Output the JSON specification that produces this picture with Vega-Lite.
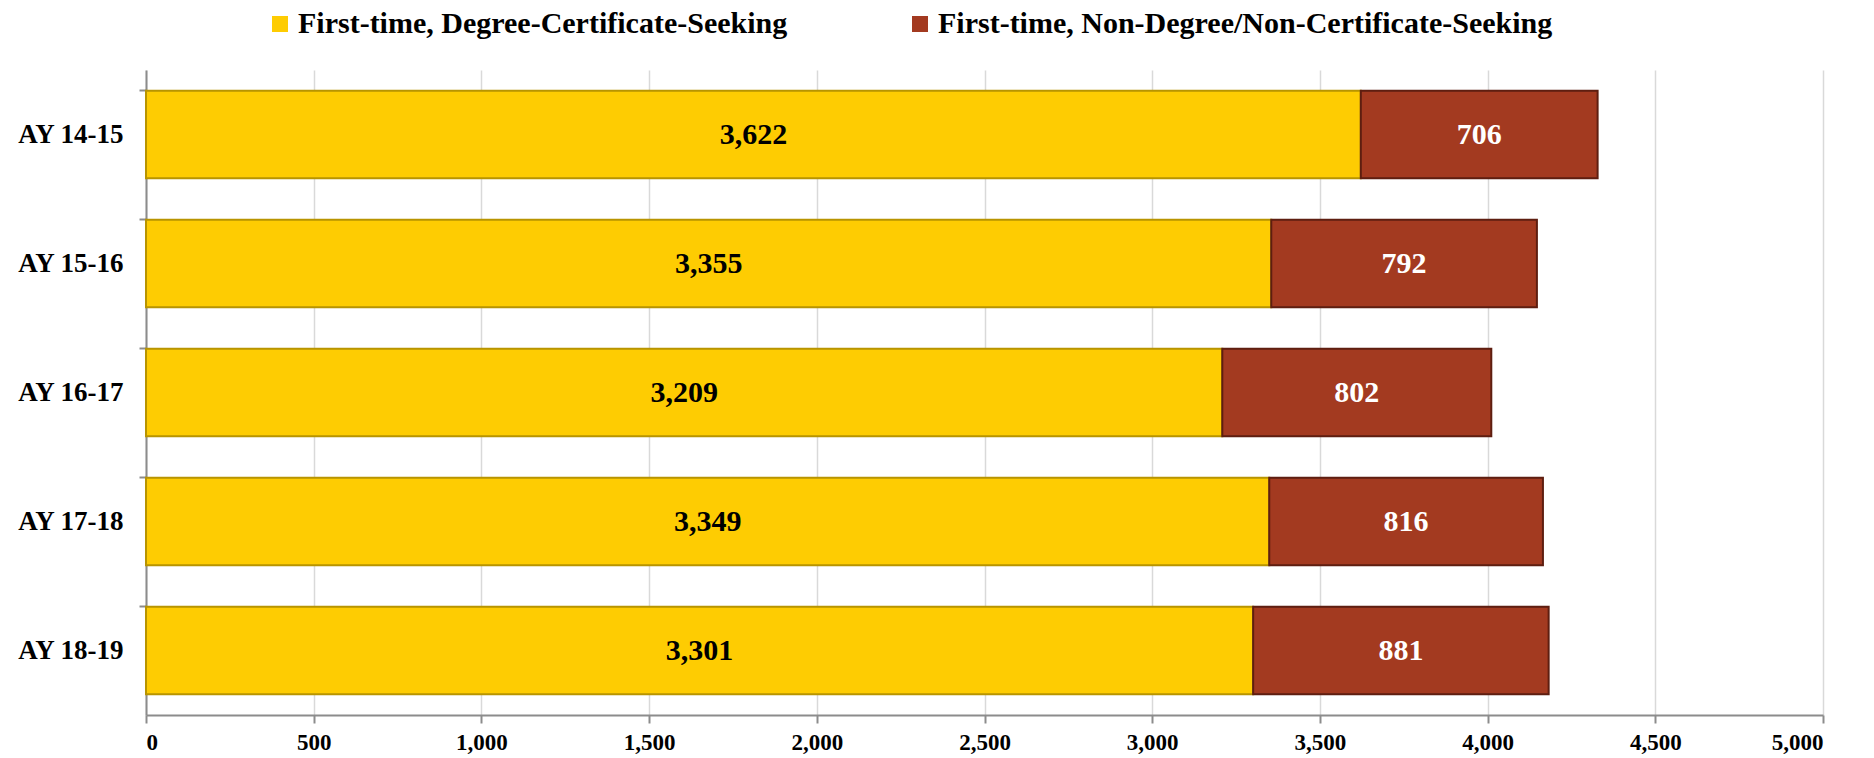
{
  "$schema": "https://vega.github.io/schema/vega-lite/v6.json",
  "autosize": {"type": "none"},
  "width": 1677,
  "height": 645,
  "padding": {"left": 146, "top": 70, "right": 51, "bottom": 43},
  "background": "white",
  "config": {
    "font": "Liberation Serif",
    "view": {"stroke": null}
  },
  "data": {
    "values": [
      {"year": "AY 14-15", "series": "First-time, Degree-Certificate-Seeking", "value": 3622, "order": 1},
      {"year": "AY 14-15", "series": "First-time, Non-Degree/Non-Certificate-Seeking", "value": 706, "order": 2},
      {"year": "AY 15-16", "series": "First-time, Degree-Certificate-Seeking", "value": 3355, "order": 1},
      {"year": "AY 15-16", "series": "First-time, Non-Degree/Non-Certificate-Seeking", "value": 792, "order": 2},
      {"year": "AY 16-17", "series": "First-time, Degree-Certificate-Seeking", "value": 3209, "order": 1},
      {"year": "AY 16-17", "series": "First-time, Non-Degree/Non-Certificate-Seeking", "value": 802, "order": 2},
      {"year": "AY 17-18", "series": "First-time, Degree-Certificate-Seeking", "value": 3349, "order": 1},
      {"year": "AY 17-18", "series": "First-time, Non-Degree/Non-Certificate-Seeking", "value": 816, "order": 2},
      {"year": "AY 18-19", "series": "First-time, Degree-Certificate-Seeking", "value": 3301, "order": 1},
      {"year": "AY 18-19", "series": "First-time, Non-Degree/Non-Certificate-Seeking", "value": 881, "order": 2}
    ]
  },
  "transform": [
    {"stack": "value", "groupby": ["year"], "sort": [{"field": "order", "order": "ascending"}], "as": ["x0", "x1"]},
    {"calculate": "(datum.x0 + datum.x1) / 2", "as": "mid"}
  ],
  "encoding": {
    "y": {
      "field": "year", "type": "nominal", "title": null,
      "scale": {"paddingInner": 0.32, "paddingOuter": 0.16},
      "axis": {
        "labelFontSize": 27, "labelFontWeight": "bold", "labelColor": "#000000",
        "labelPadding": 16, "domainColor": "#8c8c8c", "domainWidth": 2,
        "tickColor": "#8c8c8c", "tickWidth": 2, "tickSize": 7, "bandPosition": 0
      }
    }
  },
  "layer": [
    {
      "mark": {"type": "bar", "strokeWidth": 2},
      "encoding": {
        "x": {
          "field": "x0", "type": "quantitative", "title": null,
          "scale": {"domain": [0, 5000]},
          "axis": {
            "values": [0, 500, 1000, 1500, 2000, 2500, 3000, 3500, 4000, 4500, 5000],
            "format": ",.0f", "labelFontSize": 23, "labelFontWeight": "bold", "labelColor": "#000000",
            "labelPadding": 8, "domainColor": "#8c8c8c", "domainWidth": 2,
            "tickColor": "#8c8c8c", "tickWidth": 2, "tickSize": 8,
            "grid": true, "gridColor": "#d9d9d9", "gridWidth": 1.5
          }
        },
        "x2": {"field": "x1"},
        "color": {
          "field": "series", "type": "nominal", "title": null,
          "scale": {
            "domain": ["First-time, Degree-Certificate-Seeking", "First-time, Non-Degree/Non-Certificate-Seeking"],
            "range": ["#FECC02", "#A33A20"]
          },
          "legend": {
            "orient": "none", "direction": "horizontal", "legendX": 119, "legendY": -61,
            "symbolType": "square", "symbolSize": 256, "symbolStrokeWidth": 1.5,
            "labelFontSize": 30, "labelFontWeight": "bold", "labelColor": "#000000",
            "labelLimit": 900, "columnPadding": 117, "labelOffset": 3
          }
        },
        "stroke": {
          "field": "series", "type": "nominal", "legend": null,
          "scale": {
            "domain": ["First-time, Degree-Certificate-Seeking", "First-time, Non-Degree/Non-Certificate-Seeking"],
            "range": ["#B89400", "#5E1E10"]
          }
        }
      }
    },
    {
      "mark": {"type": "text", "fontSize": 30, "fontWeight": "bold", "baseline": "middle", "align": "center"},
      "encoding": {
        "x": {"field": "mid", "type": "quantitative"},
        "text": {"field": "value", "type": "quantitative", "format": ",.0f"},
        "color": {
          "field": "series", "type": "nominal", "legend": null,
          "scale": {
            "domain": ["First-time, Degree-Certificate-Seeking", "First-time, Non-Degree/Non-Certificate-Seeking"],
            "range": ["#000000", "#FFFFFF"]
          }
        }
      }
    }
  ],
  "resolve": {"scale": {"color": "independent"}}
}
